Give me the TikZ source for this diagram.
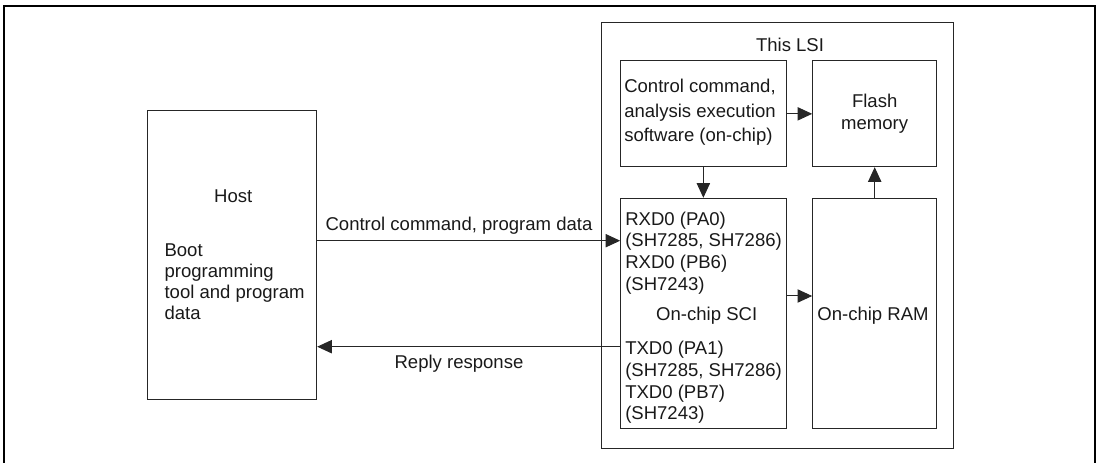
\documentclass[tikz,border=0pt]{standalone}
\usepackage{fontspec}
\setmainfont{Liberation Sans}
\usetikzlibrary{arrows.meta}
\begin{document}
\begin{tikzpicture}[x=0.75pt,y=-0.75pt,
  box/.style={draw=black!85, line width=0.75pt, inner sep=0pt},
  arr/.style={draw=black!85, line width=0.75pt, -{Triangle[length=11pt,width=10pt]}},
  txt/.style={inner sep=0pt, text=black!90, font=\fontsize{13.9}{16.35}\selectfont}]
\useasboundingbox (0,0) rectangle (1103,463);
\draw[line width=1.6pt] (4,464) -- (4,6) -- (1095,6) -- (1095,464);
% boxes
\node[box, minimum width=126.75pt, minimum height=216.2pt] (host) at (232.2,254.9) {};
\node[box, minimum width=264.2pt, minimum height=319.5pt] (lsi) at (777.85,235.3) {};
\node[box, minimum width=124pt, minimum height=79.3pt] (ctrl) at (703.35,113.85) {};
\node[box, minimum width=93pt, minimum height=79.3pt, align=center, txt,
      font=\fontsize{13.9}{16.35}\selectfont] (flash) at (874.7,113.85) {Flash\\memory};
\node[box, minimum width=124pt, minimum height=172.5pt] (sci) at (703.35,313.3) {};
\node[box, minimum width=93pt, minimum height=172.5pt] (ram) at (874.7,313.3) {};
% texts
\node[txt] (lsilabel) at (790,45) {This LSI};
\node[txt] (hostlabel) at (233.3,196.7) {Host};
\node[txt, anchor=west, align=left, font=\fontsize{13.9}{15.75}\selectfont] (boot) at (164.3,281.5)
  {Boot\\programming\\tool and program\\data};
\node[txt, anchor=west, align=left, font=\fontsize{13.9}{18.4}\selectfont] (ctrltext) at (624,112.3)
  {Control command,\\analysis execution\\software (on-chip)};
\node[txt, anchor=west, align=left] (rxtext) at (625,253)
  {RXD0 (PA0)\\(SH7285, SH7286)\\RXD0 (PB6)\\(SH7243)};
\node[txt] (scilabel) at (706.7,316) {On-chip SCI};
\node[txt, anchor=west, align=left] (txtext) at (625,382.5)
  {TXD0 (PA1)\\(SH7285, SH7286)\\TXD0 (PB7)\\(SH7243)};
\node[txt] (ramlabel) at (873,316) {On-chip RAM};
\node[txt] (cmdlabel) at (459,226) {Control command, program data};
\node[txt] (replylabel) at (459,363.3) {Reply response};
% connector levels
\coordinate (ycmd) at (0,240.7);
\coordinate (yrep) at (0,346.7);
\coordinate (yram) at (0,296);
% connectors
\draw[arr] (ctrl) -- (flash);
\draw[arr] (ctrl) -- (sci);
\draw[arr] (ram) -- (flash);
\draw[arr] (sci.east |- yram) -- (ram.west |- yram);
\draw[arr] (host.east |- ycmd) -- (sci.west |- ycmd);
\draw[arr] (sci.west |- yrep) -- (host.east |- yrep);
\end{tikzpicture}
\end{document}
